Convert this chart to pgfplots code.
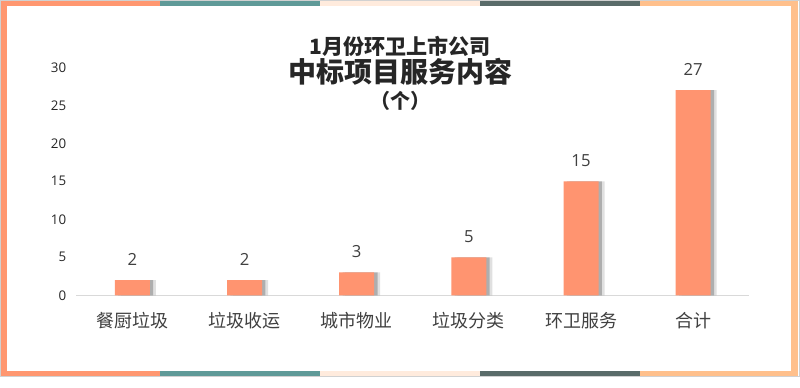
\documentclass[border=0pt]{standalone}
\usepackage{fontspec}
\setmainfont{Open Sans}
\newfontfamily\cjk{Noto Sans CJK SC}
\usepackage{pgfplots}
\pgfplotsset{compat=1.18}
\definecolor{barc}{HTML}{FF9470}
\definecolor{bSalmon}{HTML}{FF9770}
\definecolor{bTeal}{HTML}{5F9A98}
\definecolor{bPeach}{HTML}{FFEBDD}
\definecolor{bDark}{HTML}{5A6B69}
\definecolor{bOrange}{HTML}{FFC08C}
\definecolor{txt}{HTML}{404040}
\definecolor{ttl}{HTML}{262626}
\begin{document}
\begin{tikzpicture}[x=0.75pt,y=0.75pt]
\useasboundingbox (0,0) rectangle (800,388);
\fill[white] (0,0) rectangle (800,388);
% outer frame line
\draw[black!18,line width=0.75pt] (0.5,11.5) rectangle (799.5,387.5);
% top band
\fill[bSalmon] (1,382) rectangle (160,387);
\fill[bTeal] (160,382) rectangle (320,387);
\fill[bPeach] (320,382) rectangle (480,387);
\fill[bDark] (480,382) rectangle (640,387);
\fill[bOrange] (640,382) rectangle (798,387);
% bottom band
\fill[bSalmon] (1,12) rectangle (160,17);
\fill[bTeal] (160,12) rectangle (320,17);
\fill[bPeach] (320,12) rectangle (480,17);
\fill[bDark] (480,12) rectangle (640,17);
\fill[bOrange] (640,12) rectangle (798,17);
% sides
\fill[bSalmon] (1,12) rectangle (7,387);
\fill[bOrange] (791,12) rectangle (798,387);
% titles
\node[font=\cjk\bfseries\fontsize{15.8pt}{17pt}\selectfont,text=ttl] at (400,342) {1月份环卫上市公司};
\node[font=\cjk\bfseries\fontsize{21pt}{23pt}\selectfont,text=ttl] at (400,316) {中标项目服务内容};
\node[font=\cjk\bfseries\fontsize{15pt}{17pt}\selectfont,text=ttl] at (400,287) {（个）};
\begin{axis}[
  at={(68,122)}, anchor=south west,
  scale only axis, width=504.75pt, height=171pt,
  xmin=-0.5, xmax=5.5, ymin=0, ymax=30,
  axis line style={draw=none},
  axis x line*=bottom,
  x axis line style={draw=black!15, line width=0.8pt},
  axis y line=none,
  hide y axis=false,
  ytick={0,5,10,15,20,25,30},
  xtick={0,1,2,3,4,5},
  xticklabels={餐厨垃圾,垃圾收运,城市物业,垃圾分类,环卫服务,合计},
  xticklabel style={font=\cjk\fontsize{13.5pt}{15pt}\selectfont, text=txt, yshift=-9pt},
  yticklabel style={font=\fontsize{10pt}{12pt}\selectfont, text=ttl, xshift=-4pt},
  /pgf/number format/assume math mode=true,
  major tick length=0pt,
  tick style={draw=none},
  ybar, bar width=26.25pt,
  clip=false,
]
\addplot[fill=black, opacity=0.12, draw=none, bar shift=4.5pt, bar width=26.25pt] coordinates {(0,2) (1,2) (2,3) (3,5) (4,15) (5,27)};
\addplot[fill=black, opacity=0.22, draw=none, bar shift=2.5pt, bar width=26.25pt] coordinates {(0,2) (1,2) (2,3) (3,5) (4,15) (5,27)};
\addplot[fill=barc, draw=none, bar shift=0pt,
  nodes near coords,
  every node near coord/.append style={font=\fontsize{12.5pt}{14pt}\selectfont, text=txt, yshift=7.5pt},
] coordinates {(0,2) (1,2) (2,3) (3,5) (4,15) (5,27)};
\end{axis}
\end{tikzpicture}
\end{document}
